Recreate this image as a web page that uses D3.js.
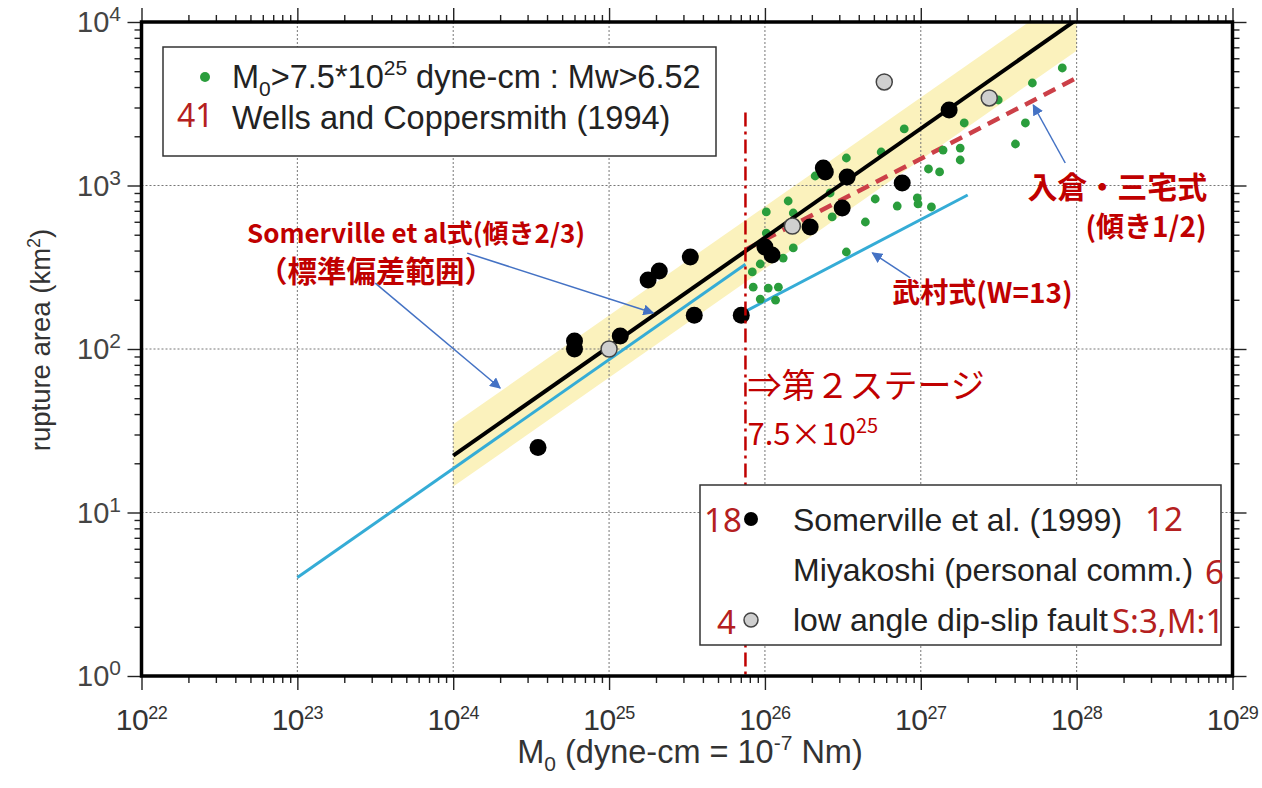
<!DOCTYPE html>
<html>
<head>
<meta charset="utf-8">
<script src="https://cdn.jsdelivr.net/npm/d3@7"></script>
<style>
  body { margin: 0; background: #fff; }
  svg { display: block; }
</style>
</head>
<body>
<svg width="1262" height="788"></svg>
<script>
// ---- data ----
// Somerville et al. (1999): seismic moment (dyne-cm) and rupture area (km2)
const somervilleM0 = [3.5e24, 6.0e24, 6.0e24, 1.18e25, 1.78e25, 2.1e25, 3.32e25, 3.52e25, 7.05e25,
  1.0e26, 1.11e26, 1.95e26, 2.37e26, 2.44e26, 3.37e26, 3.13e26, 7.6e26, 1.52e27];
const somervilleArea = [25, 112, 100, 120, 264, 300, 365, 161, 161,
  421, 376, 557, 1280, 1210, 1127, 728, 1036, 2896];

// low angle dip-slip faults
const lowAngleM0 = [1.0e25, 1.5e26, 5.83e26, 2.75e27];
const lowAngleArea = [100, 565, 4296, 3430];

// Wells and Coppersmith (1994), M0 > 7.5e25
const wellsM0 = [8.09e27, 5.2e27, 3.14e27, 1.9e27, 4.69e27, 7.83e26, 4.05e27, 5.57e26, 1.39e27, 1.79e27,
  1.79e27, 3.33e26, 2.1e26, 1.12e27, 1.32e27, 9.5e26, 9.6e26, 5.1e26, 7.06e26, 1.17e27,
  1.41e26, 2.62e26, 1.02e26, 1.52e26, 2.7e26, 1.02e26, 4.41e26, 1.52e26, 1.31e26, 3.33e26,
  9.33e25, 8.41e25, 1.05e26, 1.22e26, 9.33e25, 1.17e26, 8.3e25];
const wellsArea = [5233, 4236, 3334, 2412, 2412, 2217, 1794, 1603, 1648, 1695,
  1432, 1473, 1143, 1262, 1210, 839, 771, 827, 749, 739,
  804, 900, 689, 679, 642, 512, 598, 415, 360, 392,
  331, 239, 236, 239, 202, 199, 296];

// relations (end points)
const somervilleFitM0 = [1e24, 1e28];
const somervilleFitArea = [22.3, 10350];
const bandUpperArea = [34.6, 16000];
const bandLowerArea = [14.4, 6680];
const cyanFitM0 = [1e23, 7.5e25];
const cyanFitArea = [4.0, 330];
const takemuraM0 = [7.5e25, 2e27];
const takemuraArea = [170, 875];
const irikuraM0 = [7.5e25, 1e28];
const irikuraArea = [405, 4550];
const stageM0 = 7.5e25;
const stageArea = [1, 2800];

// axis ticks
const xDecades = [22, 23, 24, 25, 26, 27, 28, 29];
const yDecades = [0, 1, 2, 3, 4];

// ---- layout ----
const svg = d3.select("svg");
const pL = 141.5, pR = 1232.5, pT = 22, pB = 676;
const RED = "#c00000";
const NUMRED = "#b42020";
const SANS = "'Liberation Sans', Arial, sans-serif";
const JP = "'Noto Sans CJK JP', 'Noto Sans', sans-serif";

const x = d3.scaleLog().domain([1e22, 1e29]).range([pL, pR]);
const y = d3.scaleLog().domain([1, 1e4]).range([pB, pT]);

const majorX = xDecades.map(d => Math.pow(10, d));
const majorY = yDecades.map(d => Math.pow(10, d));
const minorX = [], minorY = [];
xDecades.slice(0, -1).forEach(d => { for (let k = 2; k < 10; k++) minorX.push(k * Math.pow(10, d)); });
yDecades.slice(0, -1).forEach(d => { for (let k = 2; k < 10; k++) minorY.push(k * Math.pow(10, d)); });

const defs = svg.append("defs");
defs.append("clipPath").attr("id", "plot")
  .append("rect").attr("x", pL).attr("y", pT).attr("width", pR - pL).attr("height", pB - pT);
defs.append("marker")
  .attr("id", "arrow").attr("viewBox", "0 0 10 10").attr("refX", 9).attr("refY", 5)
  .attr("markerWidth", 11).attr("markerHeight", 11).attr("markerUnits", "userSpaceOnUse")
  .attr("orient", "auto")
  .append("path").attr("d", "M0,0 L10,5 L0,10 z").attr("fill", "#4472c4");

const plot = svg.append("g").attr("clip-path", "url(#plot)");

// standard deviation band
const band = d3.area()
  .x(d => x(d[0]))
  .y0(d => y(d[2]))
  .y1(d => y(d[1]));
plot.append("path")
  .datum(somervilleFitM0.map((m, i) => [m, bandUpperArea[i], bandLowerArea[i]]))
  .attr("d", band)
  .attr("fill", "#fbf2bd");

// grid
plot.selectAll(".gx").data(majorX.slice(1, -1)).enter().append("line")
  .attr("x1", d => x(d)).attr("x2", d => x(d)).attr("y1", pT).attr("y2", pB)
  .attr("stroke", "#777").attr("stroke-width", 1).attr("stroke-dasharray", "2,2");
plot.selectAll(".gy").data(majorY.slice(1, -1)).enter().append("line")
  .attr("y1", d => y(d)).attr("y2", d => y(d)).attr("x1", pL).attr("x2", pR)
  .attr("stroke", "#777").attr("stroke-width", 1).attr("stroke-dasharray", "2,2");

const line = d3.line().x(d => x(d[0])).y(d => y(d[1]));
const pairs = (a, b) => a.map((v, i) => [v, b[i]]);

// cyan relations
plot.append("path").datum(pairs(cyanFitM0, cyanFitArea)).attr("d", line)
  .attr("stroke", "#35acd6").attr("stroke-width", 3).attr("fill", "none");
plot.append("path").datum(pairs(takemuraM0, takemuraArea)).attr("d", line)
  .attr("stroke", "#35acd6").attr("stroke-width", 3).attr("fill", "none");

// Irikura-Miyake (dashed)
plot.append("path").datum(pairs(irikuraM0, irikuraArea)).attr("d", line)
  .attr("stroke", "#cc4048").attr("stroke-width", 4.5).attr("fill", "none")
  .attr("stroke-dasharray", "13,8");

// Wells and Coppersmith points
plot.selectAll(".wc").data(pairs(wellsM0, wellsArea)).enter().append("circle")
  .attr("cx", d => x(d[0])).attr("cy", d => y(d[1])).attr("r", 4.4)
  .attr("fill", "#2a9d3c");

// Somerville fit
plot.append("path").datum(pairs(somervilleFitM0, somervilleFitArea)).attr("d", line)
  .attr("stroke", "#000").attr("stroke-width", 4).attr("fill", "none");

// Somerville points
plot.selectAll(".sv").data(pairs(somervilleM0, somervilleArea)).enter().append("circle")
  .attr("cx", d => x(d[0])).attr("cy", d => y(d[1])).attr("r", 8.5)
  .attr("fill", "#000");

// low angle dip-slip
plot.selectAll(".la").data(pairs(lowAngleM0, lowAngleArea)).enter().append("circle")
  .attr("cx", d => x(d[0])).attr("cy", d => y(d[1])).attr("r", 8)
  .attr("fill", "#cfcfcf").attr("stroke", "#444").attr("stroke-width", 1.5);

// stage threshold
plot.append("line")
  .attr("x1", x(stageM0)).attr("x2", x(stageM0))
  .attr("y1", y(stageArea[1])).attr("y2", y(stageArea[0]))
  .attr("stroke", RED).attr("stroke-width", 2.5).attr("stroke-dasharray", "14,5,3,5");

// ---- axes ----
function ticks(axisFn, vals, size, tx, ty) {
  const g = svg.append("g").attr("transform", `translate(${tx},${ty})`)
    .call(axisFn.tickValues(vals).tickSize(size).tickFormat(""));
  g.select(".domain").remove();
  g.selectAll("line").attr("stroke", "#222").attr("stroke-width", 1.4);
}
ticks(d3.axisBottom(x), majorX, 14, 0, pB);
ticks(d3.axisBottom(x), minorX, 7, 0, pB);
ticks(d3.axisTop(x), majorX, 14, 0, pT);
ticks(d3.axisTop(x), minorX, 7, 0, pT);
ticks(d3.axisLeft(y), majorY, 14, pL, 0);
ticks(d3.axisLeft(y), minorY, 7, pL, 0);
ticks(d3.axisRight(y), majorY, 14, pR, 0);
ticks(d3.axisRight(y), minorY, 7, pR, 0);

// frame
svg.append("rect").attr("x", pL).attr("y", pT).attr("width", pR - pL).attr("height", pB - pT)
  .attr("fill", "none").attr("stroke", "#000").attr("stroke-width", 3.5);

function power(sel, base, exp, supSize, rise) {
  sel.append("tspan").text(base);
  sel.append("tspan").attr("dy", -rise).attr("font-size", supSize).text(exp);
}

xDecades.forEach(d => {
  const t = svg.append("text").attr("x", x(Math.pow(10, d))).attr("y", 730)
    .attr("text-anchor", "middle").attr("font-family", SANS).attr("font-size", 30)
    .attr("letter-spacing", -0.5).attr("fill", "#333");
  power(t, "10", d, 18, 11);
});
yDecades.forEach(d => {
  const t = svg.append("text").attr("x", 121).attr("y", y(Math.pow(10, d)) + 10)
    .attr("text-anchor", "end").attr("font-family", SANS).attr("font-size", 29).attr("fill", "#444");
  power(t, "10", d, 21, 11);
});

// axis titles
const xt = svg.append("text").attr("x", 690).attr("y", 763).attr("text-anchor", "middle")
  .attr("font-family", SANS).attr("font-size", 32.5).attr("fill", "#333");
xt.append("tspan").text("M");
xt.append("tspan").attr("dy", 8).attr("font-size", 21).text("0");
xt.append("tspan").attr("dy", -8).text(" (dyne-cm = 10");
xt.append("tspan").attr("dy", -13).attr("font-size", 21).text("-7");
xt.append("tspan").attr("dy", 13).text(" Nm)");

const yt = svg.append("text").attr("transform", "translate(50,340) rotate(-90)")
  .attr("text-anchor", "middle").attr("font-family", SANS).attr("font-size", 27.5).attr("fill", "#333");
yt.append("tspan").text("rupture area (km");
yt.append("tspan").attr("dy", -10).attr("font-size", 18).text("2");
yt.append("tspan").attr("dy", 10).text(")");

// ---- annotations ----
const arrows = [
  [[1.23e24, 386], [1.92e25, 166]],
  [[3.16e23, 253], [2.0e24, 57.7]],
  [[8.45e27, 1373], [5.27e27, 3107]],
  [[8.57e26, 272], [4.89e26, 387]]
];
svg.selectAll(".arrow").data(arrows).enter().append("line")
  .attr("x1", d => x(d[0][0])).attr("y1", d => y(d[0][1]))
  .attr("x2", d => x(d[1][0])).attr("y2", d => y(d[1][1]))
  .attr("stroke", "#4472c4").attr("stroke-width", 1.5).attr("marker-end", "url(#arrow)");

const notes = [
  { m: 4.75e22, a: 445, text: "Somerville et al式(傾き2/3)", size: 26 },
  { m: 5.6e22, a: 257, text: "（標準偏差範囲）", size: 29.5 },
  { m: 4.83e27, a: 839, text: "入倉・三宅式", size: 30 },
  { m: 1.14e28, a: 484, text: "(傾き1/2)", size: 28 },
  { m: 6.56e26, a: 191, text: "武村式(W=13)", size: 28 }
];
svg.selectAll(".note").data(notes).enter().append("text")
  .attr("x", d => x(d.m)).attr("y", d => y(d.a))
  .attr("font-family", JP).attr("font-weight", 700).attr("font-size", d => d.size)
  .attr("fill", RED).text(d => d.text);

svg.append("text").attr("x", x(stageM0) + 2).attr("y", y(50))
  .attr("font-family", JP).attr("font-size", 34).attr("fill", RED).text("⇒第２ステージ");
const st = svg.append("text").attr("x", x(stageM0) + 2).attr("y", y(26))
  .attr("font-family", JP).attr("font-size", 31).attr("fill", RED);
st.append("tspan").text("7.5×10");
st.append("tspan").attr("dy", -12).attr("font-size", 20).text("25");

// ---- legends ----
const leg1 = svg.append("g");
leg1.append("rect").attr("x", 163).attr("y", 47).attr("width", 553).attr("height", 109)
  .attr("fill", "#fff").attr("stroke", "#333").attr("stroke-width", 1.5);
leg1.append("circle").attr("cx", 205).attr("cy", 77).attr("r", 5).attr("fill", "#2a9d3c");
const l1 = leg1.append("text").attr("x", 232).attr("y", 88)
  .attr("font-family", SANS).attr("font-size", 32.5).attr("fill", "#222");
l1.append("tspan").text("M");
l1.append("tspan").attr("dy", 8).attr("font-size", 21).text("0");
l1.append("tspan").attr("dy", -8).text(">7.5*10");
l1.append("tspan").attr("dy", -13).attr("font-size", 21).text("25");
l1.append("tspan").attr("dy", 13).text(" dyne-cm : Mw>6.52");
leg1.append("text").attr("x", 232).attr("y", 129)
  .attr("font-family", SANS).attr("font-size", 32.5).attr("fill", "#222").text("Wells and Coppersmith (1994)");
leg1.append("text").attr("x", 177).attr("y", 127)
  .attr("font-family", "'Noto Sans', sans-serif").attr("font-size", 32).attr("fill", NUMRED).text("41");

const leg2 = svg.append("g");
leg2.append("rect").attr("x", 700).attr("y", 485).attr("width", 521).attr("height", 160)
  .attr("fill", "#fff").attr("stroke", "#333").attr("stroke-width", 1.5);
leg2.append("circle").attr("cx", 751).attr("cy", 519).attr("r", 7).attr("fill", "#000");
leg2.append("circle").attr("cx", 751).attr("cy", 620).attr("r", 7)
  .attr("fill", "#cfcfcf").attr("stroke", "#444").attr("stroke-width", 1.5);
const legText = ["Somerville et al. (1999)", "Miyakoshi (personal comm.)", "low angle dip-slip fault"];
leg2.selectAll(".lt").data(legText).enter().append("text")
  .attr("x", 793).attr("y", (d, i) => 531 + i * 50)
  .attr("font-family", SANS).attr("font-size", 32).attr("fill", "#222").text(d => d);
const counts = [
  { x: 704, y: 532, t: "18" }, { x: 1145, y: 531, t: "12" }, { x: 1205, y: 584, t: "6" },
  { x: 717, y: 634, t: "4" }, { x: 1112, y: 633, t: "S:3,M:1" }
];
leg2.selectAll(".ct").data(counts).enter().append("text")
  .attr("x", d => d.x).attr("y", d => d.y)
  .attr("font-family", "'Noto Sans', sans-serif").attr("font-size", 33).attr("fill", NUMRED).text(d => d.t);
</script>
</body>
</html>
